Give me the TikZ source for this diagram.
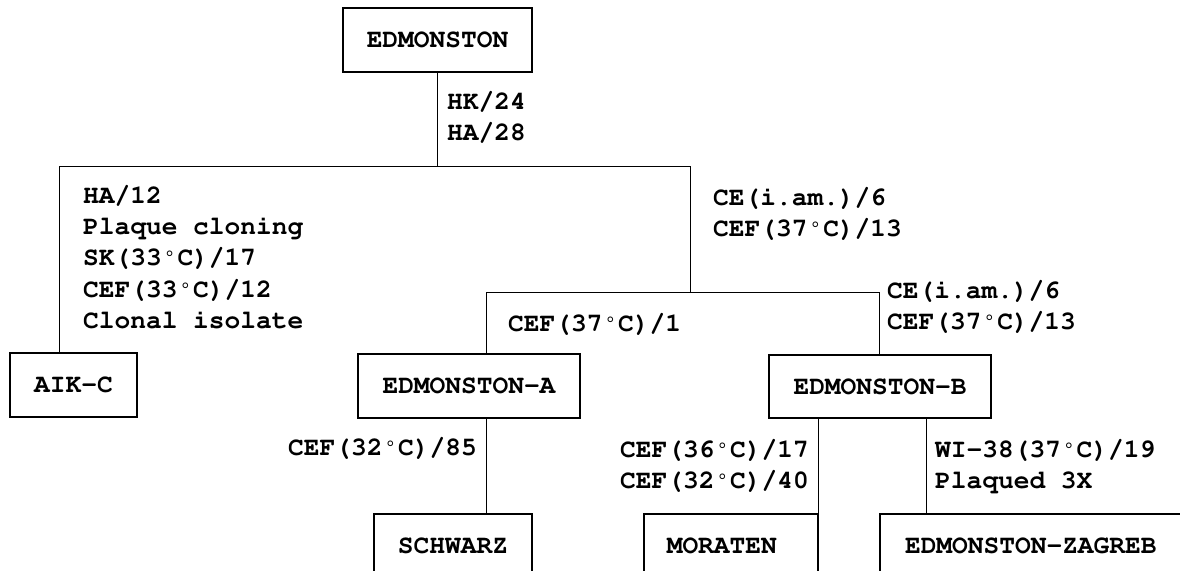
\documentclass[tikz,border=0pt]{standalone}
\usepackage[T1]{fontenc}
\usepackage{textcomp}
\usepackage{courier}
\newcommand\lblfont{\fontsize{26.2}{31.3}\selectfont\ttfamily\bfseries}
\newcommand\fs{\rule{0pt}{22pt}}
\newcommand\dg{\makebox[15.72pt]{\raisebox{5pt}{\fontsize{16}{16}\selectfont\textdegree}}}
\tikzset{
  box/.style={draw, line width=1.6pt, inner sep=0pt, font=\lblfont},
  lbl/.style={anchor=north west, inner sep=0pt, align=left, font=\lblfont},
  conn/.style={line width=1pt}
}
\begin{document}
\begin{tikzpicture}[x=1pt,y=-1pt]
\useasboundingbox (0,0) rectangle (1180,570);
\clip (0,0) rectangle (1180,570);
% boxes
\node[box, minimum width=189pt, minimum height=64pt] (ed) at (437.5,40) {EDMONSTON};
\node[box, minimum width=127pt, minimum height=64pt] (aik) at (73.5,385) {AIK-C};
\node[box, minimum width=222pt, minimum height=64pt] (edA) at (469,386) {EDMONSTON-A};
\node[box, minimum width=222pt, minimum height=63pt] (edB) at (880,386.5) {EDMONSTON-B};
\node[box, minimum width=158pt, minimum height=64pt, anchor=north] (sch) at (453,513) {SCHWARZ};
\node[box, minimum height=64pt, anchor=north west, text width=128pt, inner xsep=23pt, align=left] (mor) at (643,513) {MORATEN};
\node[box, minimum width=302pt, minimum height=64pt, anchor=north west] (zag) at (879,513) {EDMONSTON-ZAGREB};
% junctions
\coordinate (jL) at (59,166);
\coordinate (jR) at (690,166);
\coordinate (j2) at (690,292);
\coordinate (j2L) at (486,292);
\coordinate (j2R) at (879,292);
\coordinate (jZ) at (926,460);
% connectors
\draw[conn] (ed.south) -- (ed.south |- jL);
\draw[conn] (aik.north -| jL) -- (jL) -- (jR) -- (j2);
\draw[conn] (edA.north -| j2L) -- (j2L) -- (j2R) -- (edB.north -| j2R);
\draw[conn] (edA.south -| j2L) -- (sch.north -| j2L);
\draw[conn] (edB.south -| mor.north east) -- (mor.north east);
\draw[conn] (edB.south -| jZ) -- (zag.north -| jZ);
% labels
\node[lbl] (l1) at (447,87) {\fs HK/24\\HA/28};
\node[lbl] (l2) at (83,181) {\fs HA/12\\Plaque cloning\\SK(33\dg C)/17\\CEF(33\dg C)/12\\Clonal isolate};
\node[lbl] (l3) at (713,183) {\fs CE(i.am.)/6\\CEF(37\dg C)/13};
\node[lbl] (l4) at (508,309) {\fs CEF(37\dg C)/1};
\node[lbl] (l5) at (887,276) {\fs CE(i.am.)/6\\CEF(37\dg C)/13};
\node[lbl] (l6) at (288,433) {\fs CEF(32\dg C)/85};
\node[lbl] (l7) at (620,435) {\fs CEF(36\dg C)/17\\CEF(32\dg C)/40};
\node[lbl] (l8) at (935,435) {\fs WI-38(37\dg C)/19\\Plaqued 3X};
\end{tikzpicture}
\end{document}
